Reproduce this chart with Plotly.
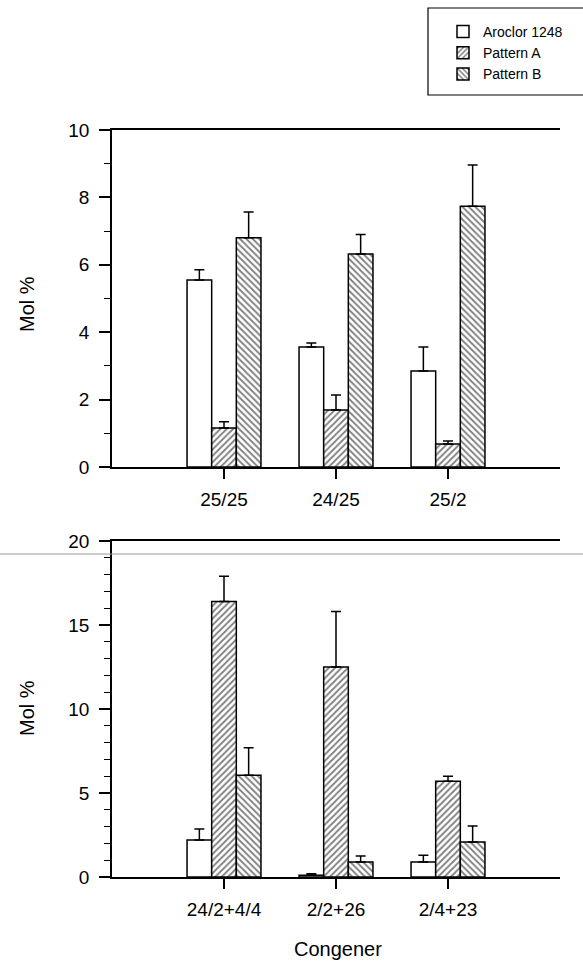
import plotly.graph_objects as go

# ---- data ----
top_categories = ["25/25", "24/25", "25/2"]
top_aroclor = [5.55, 3.56, 2.85]
top_aroclor_err = [5.85, 3.68, 3.56]
top_patA = [1.16, 1.69, 0.68]
top_patA_err = [1.34, 2.14, 0.77]
top_patB = [6.80, 6.32, 7.74]
top_patB_err = [7.57, 6.90, 8.96]

bot_categories = ["24/2+4/4", "2/2+26", "2/4+23"]
bot_aroclor = [2.2, 0.1, 0.89]
bot_aroclor_err = [2.85, 0.2, 1.3]
bot_patA = [16.4, 12.5, 5.7]
bot_patA_err = [17.9, 15.8, 6.0]
bot_patB = [6.05, 0.9, 2.08]
bot_patB_err = [7.7, 1.25, 3.04]

series_names = ["Aroclor 1248", "Pattern A", "Pattern B"]
patterns = ["", "/", "\\"]

W, H = 583, 962
fig = go.Figure()

def add_group(cats, vals, errs, xa, ya, showleg):
    for i, (v, e) in enumerate(zip(vals, errs)):
        plus = [ee - vv for vv, ee in zip(v, e)]
        fig.add_trace(go.Bar(
            x=list(range(len(cats))), y=v, name=series_names[i],
            xaxis=xa, yaxis=ya, showlegend=showleg,
            marker=dict(color="white", line=dict(color="black", width=1.5),
                        pattern=dict(shape=patterns[i], fgcolor="black", bgcolor="white",
                                     size=4.5, solidity=0.4)),
            error_y=dict(type="data", array=plus, arrayminus=[0]*len(v), symmetric=False,
                         color="black", thickness=1.5, width=5),
        ))

add_group(top_categories, [top_aroclor, top_patA, top_patB],
          [top_aroclor_err, top_patA_err, top_patB_err], "x", "y", True)
add_group(bot_categories, [bot_aroclor, bot_patA, bot_patB],
          [bot_aroclor_err, bot_patA_err, bot_patB_err], "x2", "y2", False)

FAM = "Liberation Sans, Arial, sans-serif"
tickfont = dict(family=FAM, size=19, color="black")
titlefont = dict(family=FAM, size=20, color="black")
xdom = [112 / W, 560 / W]

def xaxis(cats, anchor):
    return dict(domain=xdom, anchor=anchor, range=[-1, 3],
                tickmode="array", tickvals=list(range(len(cats))), ticktext=cats,
                ticks="outside", ticklen=10, tickwidth=1.5, tickcolor="black",
                ticklabelstandoff=4,
                showline=True, linecolor="black", linewidth=1.5, mirror=True,
                showgrid=False, zeroline=False, tickfont=tickfont, automargin=False)

def yaxis(dom, rng, dt, anchor):
    return dict(domain=dom, anchor=anchor, range=rng, dtick=dt,
                ticks="outside", ticklen=11, tickwidth=1.5, tickcolor="black",
                ticklabelstandoff=6,
                minor=dict(dtick=1, ticks="outside", ticklen=6, tickwidth=1.2, tickcolor="black"),
                showline=True, linecolor="black", linewidth=1.5, mirror=False,
                showgrid=False, zeroline=False, tickfont=tickfont, automargin=False)

fig.update_layout(
    width=W, height=H, margin=dict(l=0, r=0, t=0, b=0),
    paper_bgcolor="white", plot_bgcolor="white",
    barmode="group", bargap=0.34, bargroupgap=0,
    font=tickfont,
    xaxis=xaxis(top_categories, "y"),
    yaxis=yaxis([1 - 467 / H, 1 - 130 / H], [0, 10], 2, "x"),
    xaxis2=xaxis(bot_categories, "y2"),
    yaxis2=yaxis([1 - 877 / H, 1 - 541 / H], [0, 20], 5, "x2"),
    legend=dict(x=443 / W, y=1 - 16 / H, xanchor="left", yanchor="top",
                borderwidth=0, bgcolor="rgba(0,0,0,0)",
                font=dict(family=FAM, size=14, color="black"),
                tracegroupgap=0, itemwidth=30),
    annotations=[
        dict(text="Mol %", x=27 / W, y=1 - 304 / H, xref="paper", yref="paper",
             xanchor="center", yanchor="middle",
             showarrow=False, textangle=-90, font=titlefont),
        dict(text="Mol %", x=27 / W, y=1 - 708 / H, xref="paper", yref="paper",
             xanchor="center", yanchor="middle",
             showarrow=False, textangle=-90, font=titlefont),
        dict(text="Congener", x=338 / W, y=1 - 949 / H, xref="paper", yref="paper",
             xanchor="center", yanchor="middle",
             showarrow=False, font=titlefont),
    ],
    shapes=[
        dict(type="line", xref="paper", yref="paper", x0=0, x1=1,
             y0=1 - 554 / H, y1=1 - 554 / H, line=dict(color="#999999", width=1)),
        dict(type="rect", xref="paper", yref="paper", x0=428 / W, x1=1.05,
             y0=1 - 95 / H, y1=1 - 8 / H, line=dict(color="black", width=1.2),
             fillcolor="rgba(0,0,0,0)", layer="below"),
    ],
)

fig.write_html("out.html", config={"displayModeBar": False},
               post_script="document.body.style.margin='0px';document.body.style.padding='0px';")
